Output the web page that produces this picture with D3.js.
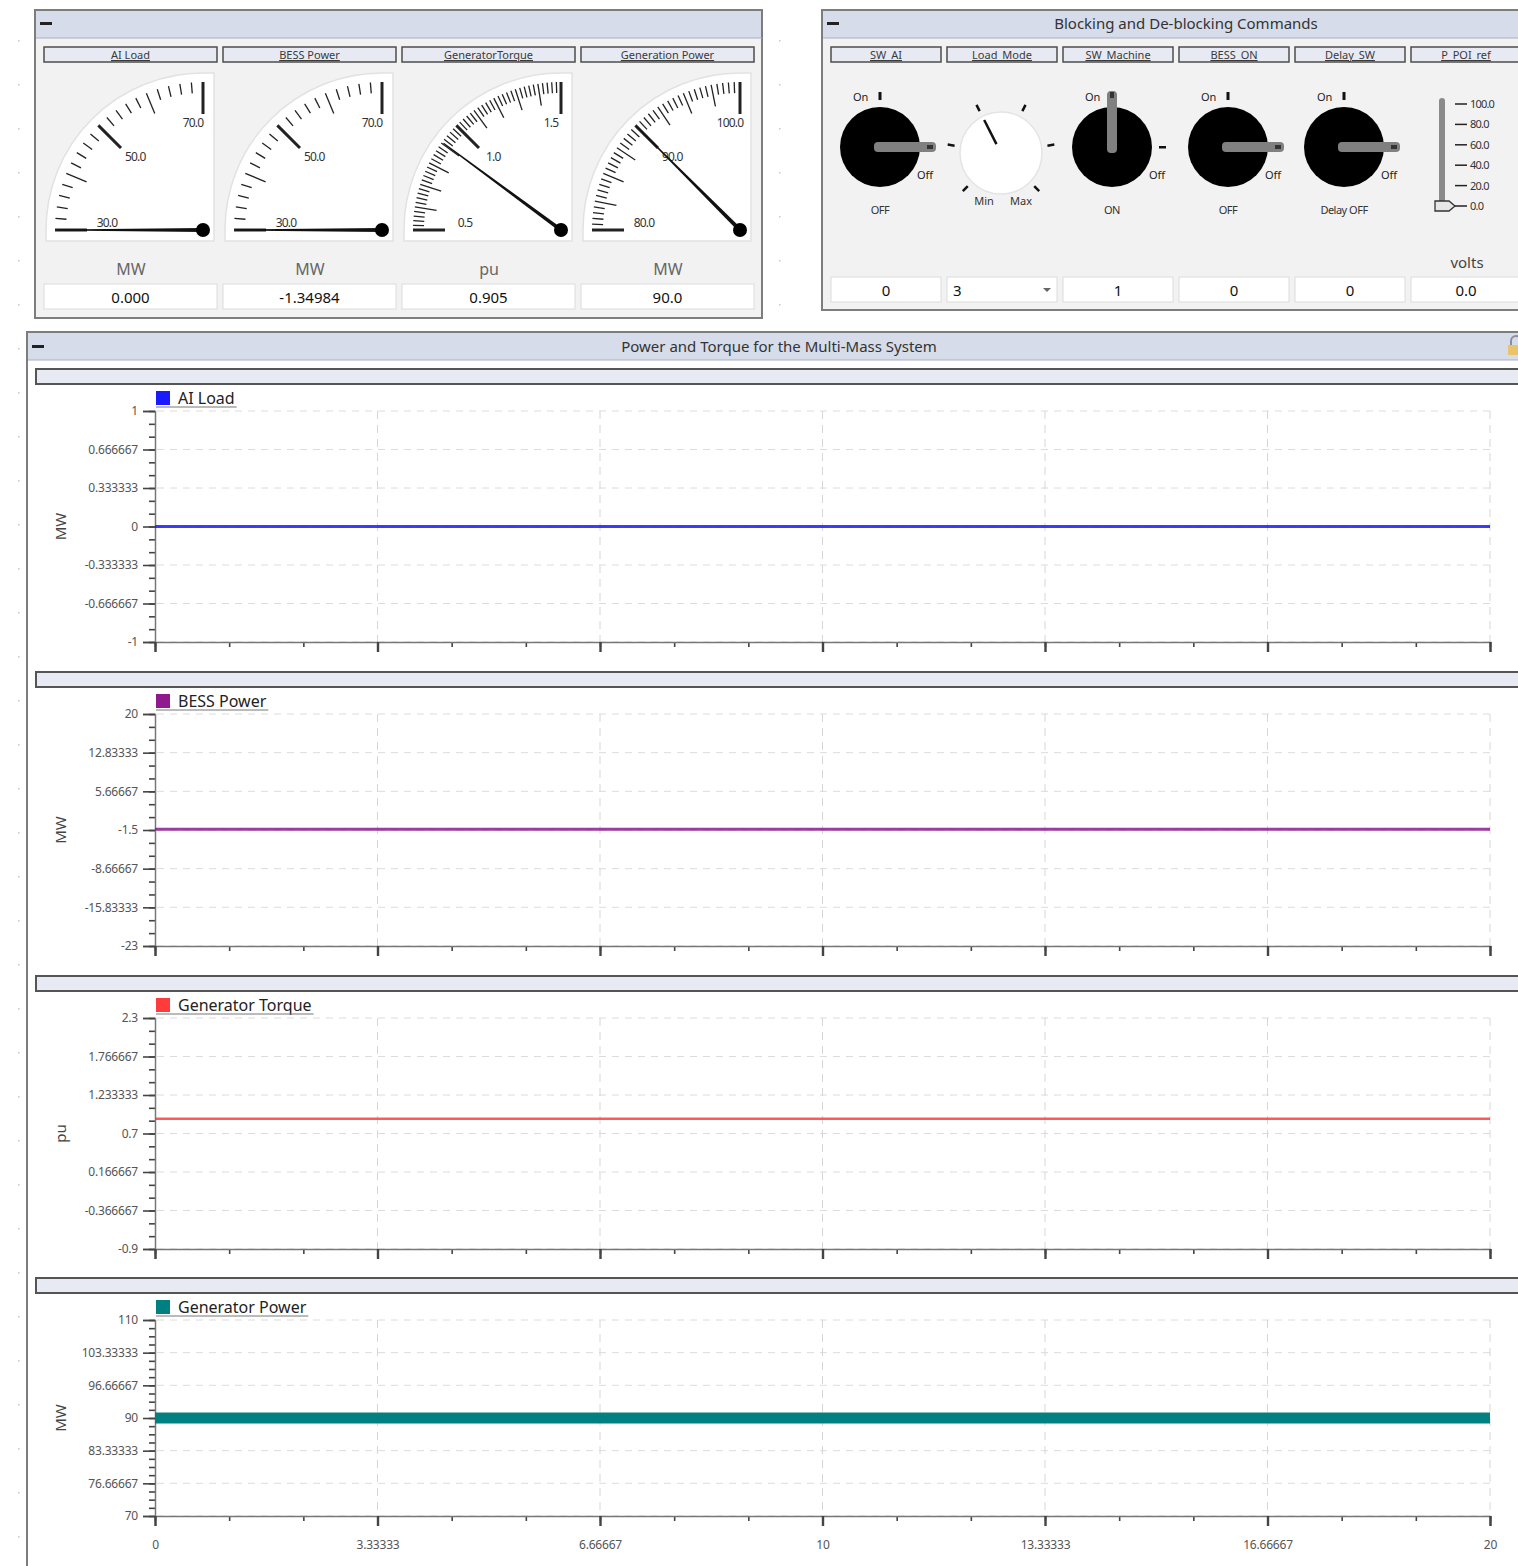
<!DOCTYPE html>
<html>
<head>
<meta charset="utf-8">
<script src="https://cdn.jsdelivr.net/npm/d3@7"></script>
<style>
  body { margin: 0; background: #fff; overflow: hidden; }
  svg { display: block; font-family: "Noto Sans", "Open Sans", sans-serif; }
</style>
</head>
<body>
<script>
// dashboard: gauges, switches and four strip charts

var width = 1518;
var height = 1566;

// ---- gauge panel data
var gaugeNames = ["AI Load", "BESS Power", "GeneratorTorque", "Generation Power"];
var gaugeMin = [30, 30, 0.5, 80];
var gaugeMax = [70, 70, 1.5, 100];
var gaugeSteps = [20, 20, 50, 40];
var gaugeMajor = [["30.0", "50.0", "70.0"], ["30.0", "50.0", "70.0"], ["0.5", "1.0", "1.5"], ["80.0", "90.0", "100.0"]];
var gaugeValues = [0, -1.34984, 0.905, 90.0];
var gaugeUnits = ["MW", "MW", "pu", "MW"];
var gaugeText = ["0.000", "-1.34984", "0.905", "90.0"];

// ---- command panel data
var cmdNames = ["SW_AI", "Load_Mode", "SW_Machine", "BESS_ON", "Delay_SW", "P_POI_ref"];
var cmdValues = [0, 3, 1, 0, 0, 0.0];
var cmdText = ["0", "3", "1", "0", "0", "0.0"];
var switchStatus = ["OFF", "", "ON", "OFF", "Delay OFF"];
var modePositions = [1, 2, 3, 4, 5, 6];
var sliderTicks = [0, 20, 40, 60, 80, 100];
var sliderLabels = ["0.0", "20.0", "40.0", "60.0", "80.0", "100.0"];

// ---- strip chart data
var time = [0, 2.5, 5, 7.5, 10, 12.5, 15, 17.5, 20];
var aiLoad = [0, 0, 0, 0, 0, 0, 0, 0, 0];
var bessPower = [-1.35, -1.35, -1.35, -1.35, -1.35, -1.35, -1.35, -1.35, -1.35];
var genTorque = [0.905, 0.905, 0.905, 0.905, 0.905, 0.905, 0.905, 0.905, 0.905];
var genPower = [90, 90, 90, 90, 90, 90, 90, 90, 90];

var xTickLabels = ["0", "3.33333", "6.66667", "10", "13.33333", "16.66667", "20"];
var yLabelsLoad = ["1", "0.666667", "0.333333", "0", "-0.333333", "-0.666667", "-1"];
var yLabelsBess = ["20", "12.83333", "5.66667", "-1.5", "-8.66667", "-15.83333", "-23"];
var yLabelsTorque = ["2.3", "1.766667", "1.233333", "0.7", "0.166667", "-0.366667", "-0.9"];
var yLabelsPower = ["110", "103.33333", "96.66667", "90", "83.33333", "76.66667", "70"];

var svg = d3.select("body").append("svg")
  .attr("width", width)
  .attr("height", height);

// faint grid dots of the editor canvas
[18, 779].forEach(function(dx){
  d3.range(40, height, 44).forEach(function(dy){
    svg.append("rect").attr("x", dx).attr("y", dy).attr("width", 1.5).attr("height", 1.5).attr("fill", "#c8c8c8");
  });
});

var panel = function(x, y, w, h, title){
  var g = svg.append("g");
  g.append("rect").attr("x", x).attr("y", y).attr("width", w).attr("height", h)
    .attr("fill", "#f2f2f2").attr("stroke", "#7d7d7d").attr("stroke-width", 2);
  g.append("rect").attr("x", x + 1).attr("y", y + 1).attr("width", w - 2).attr("height", 27)
    .attr("fill", "#d6dce9");
  g.append("line").attr("x1", x + 1).attr("x2", x + w).attr("y1", y + 28).attr("y2", y + 28)
    .attr("stroke", "#a9b0c0");
  g.append("rect").attr("x", x + 5).attr("y", y + 12).attr("width", 12).attr("height", 3).attr("fill", "#222");
  if (title) {
    g.append("text").attr("x", x + w / 2).attr("y", y + 19).attr("text-anchor", "middle")
      .attr("font-size", 15).attr("fill", "#333").text(title);
  }
  return g;
};

var labelBox = function(g, x, y, w, txt){
  g.append("rect").attr("x", x).attr("y", y).attr("width", w).attr("height", 15)
    .attr("fill", "#e7eaf3").attr("stroke", "#4d4d4d").attr("stroke-width", 1.5);
  g.append("text").attr("x", x + w / 2).attr("y", y + 12).attr("text-anchor", "middle")
    .attr("font-size", 11).attr("fill", "#3a3a3a").attr("text-decoration", "underline").text(txt);
};

var valueBox = function(g, x, y, w, txt, anchor){
  g.append("rect").attr("x", x).attr("y", y).attr("width", w).attr("height", 25)
    .attr("fill", "#fff").attr("stroke", "#dcdcdc");
  g.append("text").attr("x", anchor === "start" ? x + 6 : x + w / 2).attr("y", y + 19)
    .attr("text-anchor", anchor || "middle").attr("font-size", 15).attr("fill", "#111").text(txt);
};

// ================= gauge panel
var p1 = panel(35, 10, 727, 308, null);

gaugeNames.forEach(function(name, i){
  var bx = 44 + i * 179;
  labelBox(p1, bx, 47, 173, name);

  var cx = bx + 159, cy = 230, R = 157, b = 11;
  var face = "M" + (cx - R) + "," + (cy + b) + " L" + (cx - R) + "," + cy +
    " A" + R + "," + R + " 0 0 1 " + cx + "," + (cy - R) +
    " L" + (cx + b) + "," + (cy - R) + " L" + (cx + b) + "," + (cy + b) + " Z";
  p1.append("path").attr("d", face).attr("fill", "#fff").attr("stroke", "#e2e2e2").attr("stroke-width", 1.5);

  var ang = d3.scaleLinear().domain([gaugeMin[i], gaugeMax[i]]).range([Math.PI, Math.PI / 2]).clamp(true);
  var n = gaugeSteps[i];
  d3.range(n + 1).forEach(function(k){
    var v = gaugeMin[i] + (gaugeMax[i] - gaugeMin[i]) * k / n;
    var a = ang(v);
    var major = k % (n / 2) === 0;
    var mid = !major && k % 5 === 0;
    var r1 = 148, r0 = major ? 116 : (mid ? 126 : 137);
    p1.append("line")
      .attr("x1", cx + r0 * Math.cos(a)).attr("y1", cy - r0 * Math.sin(a))
      .attr("x2", cx + r1 * Math.cos(a)).attr("y2", cy - r1 * Math.sin(a))
      .attr("stroke", "#222").attr("stroke-width", major ? 3 : 1.3);
  });

  var offs = [[4, -3], [3, 2], [-10, -3]];
  gaugeMajor[i].forEach(function(lbl, k){
    var v = gaugeMin[i] + (gaugeMax[i] - gaugeMin[i]) * k / 2;
    var a = ang(v);
    p1.append("text")
      .attr("x", cx + 100 * Math.cos(a) + offs[k][0])
      .attr("y", cy - 100 * Math.sin(a) + offs[k][1])
      .attr("text-anchor", "middle").attr("font-size", 12).attr("fill", "#333")
      .attr("letter-spacing", -0.8).text(lbl);
  });

  // needle
  var a = ang(gaugeValues[i]);
  var L = 146, ux = Math.cos(a), uy = -Math.sin(a), px = -uy, py = ux;
  var pts = [
    [cx + px * 2, cy + py * 2],
    [cx + ux * L + px * 0.5, cy + uy * L + py * 0.5],
    [cx + ux * L - px * 0.5, cy + uy * L - py * 0.5],
    [cx - px * 2, cy - py * 2]
  ];
  p1.append("polygon").attr("points", pts.map(function(p){ return p.join(","); }).join(" "))
    .attr("fill", "#111");
  p1.append("circle").attr("cx", cx).attr("cy", cy).attr("r", 7).attr("fill", "#000");

  p1.append("text").attr("x", bx + 87).attr("y", 275).attr("text-anchor", "middle")
    .attr("font-size", 16).attr("fill", "#666").text(gaugeUnits[i]);
  valueBox(p1, bx, 284, 173, gaugeText[i]);
});

// ================= command panel
var p2 = panel(822, 10, 720, 300, "Blocking and De-blocking Commands");
p2.select("text").attr("x", 1186);

cmdNames.forEach(function(name, i){
  var bx = 831 + i * 116;
  labelBox(p2, bx, 47, 110, name);
  valueBox(p2, bx, 277, 110, cmdText[i], i === 1 ? "start" : "middle");
});
// dropdown arrow
p2.append("path").attr("d", "M1043,288 l8,0 l-4,4 z").attr("fill", "#666");

// toggle switches
[0, 2, 3, 4].forEach(function(i){
  var kx = 831 + i * 116 + 49, ky = 147;
  var on = cmdValues[i] === 1;
  p2.append("text").attr("x", kx - 27).attr("y", ky - 46).attr("font-size", 11).attr("fill", "#222").text("On");
  p2.append("rect").attr("x", kx - 1.5).attr("y", ky - 55).attr("width", 3).attr("height", 8).attr("fill", "#111");
  p2.append("rect").attr("x", kx + 47).attr("y", ky - 1).attr("width", 7).attr("height", 2.5).attr("fill", "#111");
  p2.append("circle").attr("cx", kx).attr("cy", ky).attr("r", 40).attr("fill", "#000");
  if (on) {
    p2.append("rect").attr("x", kx - 5).attr("y", ky - 56).attr("width", 10).attr("height", 62).attr("rx", 4)
      .attr("fill", "#808080");
    p2.append("rect").attr("x", kx - 2).attr("y", ky - 55).attr("width", 4).attr("height", 6).attr("fill", "#333");
  } else {
    p2.append("rect").attr("x", kx - 6).attr("y", ky - 5).attr("width", 62).attr("height", 10).attr("rx", 4)
      .attr("fill", "#808080");
    p2.append("rect").attr("x", kx + 47).attr("y", ky - 2).attr("width", 6).attr("height", 4).attr("fill", "#333");
  }
  p2.append("text").attr("x", kx + 37).attr("y", ky + 32).attr("font-size", 11).attr("fill", "#222").text("Off");
  p2.append("text").attr("x", kx).attr("y", ky + 67).attr("text-anchor", "middle")
    .attr("font-size", 11).attr("fill", "#333").attr("letter-spacing", -0.5).text(switchStatus[i]);
});

// Load_Mode rotary knob
(function(){
  var kx = 1001, ky = 153;
  var rot = d3.scaleLinear().domain([modePositions[0], modePositions[modePositions.length - 1]])
    .range([-135, 135]);
  modePositions.forEach(function(m){
    var a = rot(m) * Math.PI / 180;
    p2.append("line")
      .attr("x1", kx + 47 * Math.sin(a)).attr("y1", ky - 47 * Math.cos(a))
      .attr("x2", kx + 54 * Math.sin(a)).attr("y2", ky - 54 * Math.cos(a))
      .attr("stroke", "#111").attr("stroke-width", 2.5);
  });
  p2.append("circle").attr("cx", kx).attr("cy", ky).attr("r", 41).attr("fill", "#fff")
    .attr("stroke", "#e4e4e4").attr("stroke-width", 1.5);
  var a = rot(cmdValues[1]) * Math.PI / 180;
  p2.append("line")
    .attr("x1", kx + 10 * Math.sin(a)).attr("y1", ky - 10 * Math.cos(a))
    .attr("x2", kx + 37 * Math.sin(a)).attr("y2", ky - 37 * Math.cos(a))
    .attr("stroke", "#111").attr("stroke-width", 2.5);
  p2.append("text").attr("x", 984).attr("y", 205).attr("text-anchor", "middle").attr("font-size", 11).attr("fill", "#333").text("Min");
  p2.append("text").attr("x", 1021).attr("y", 205).attr("text-anchor", "middle").attr("font-size", 11).attr("fill", "#333").text("Max");
})();

// P_POI_ref slider
(function(){
  var sy = d3.scaleLinear().domain([0, 100]).range([206, 104]);
  p2.append("rect").attr("x", 1439).attr("y", 98).attr("width", 6).attr("height", 110).attr("rx", 3).attr("fill", "#8a8a8a");
  sliderTicks.forEach(function(t, k){
    p2.append("line").attr("x1", 1455).attr("x2", 1467).attr("y1", sy(t)).attr("y2", sy(t))
      .attr("stroke", "#222").attr("stroke-width", 1.5);
    p2.append("text").attr("x", 1470).attr("y", sy(t) + 4).attr("font-size", 11).attr("fill", "#333")
      .attr("letter-spacing", -0.8).text(sliderLabels[k]);
  });
  var ty = sy(cmdValues[5]);
  p2.append("path").attr("d", "M1435," + (ty - 5) + " L1449," + (ty - 5) + " L1455," + ty + " L1449," + (ty + 5) + " L1435," + (ty + 5) + " Z")
    .attr("fill", "#e6e6e6").attr("stroke", "#333").attr("stroke-width", 1.3);
  p2.append("text").attr("x", 1467).attr("y", 268).attr("text-anchor", "middle").attr("font-size", 15).attr("fill", "#444").text("volts");
})();

// ================= strip charts panel
var p3 = svg.append("g");
p3.append("rect").attr("x", 27).attr("y", 332).attr("width", 1520).attr("height", 1250)
  .attr("fill", "#fff").attr("stroke", "#7d7d7d").attr("stroke-width", 2);
p3.append("rect").attr("x", 28).attr("y", 333).attr("width", 1500).attr("height", 27).attr("fill", "#d6dce9");
p3.append("line").attr("x1", 28).attr("x2", 1518).attr("y1", 360).attr("y2", 360).attr("stroke", "#a9b0c0");
p3.append("rect").attr("x", 32).attr("y", 345).attr("width", 12).attr("height", 3).attr("fill", "#222");
p3.append("text").attr("x", 779).attr("y", 352).attr("text-anchor", "middle").attr("font-size", 15)
  .attr("fill", "#333").text("Power and Torque for the Multi-Mass System");
// lock icon
p3.append("path").attr("d", "M1511,345 v-4 a5,5 0 0 1 10,0 v4").attr("fill", "none").attr("stroke", "#8a8fa0").attr("stroke-width", 2);
p3.append("rect").attr("x", 1508).attr("y", 345).attr("width", 14).attr("height", 10).attr("fill", "#e9c46a");

var x = d3.scaleLinear().domain([0, 20]).range([155, 1490]);
var xTickVals = xTickLabels.map(Number);

var charts = [
  { name: "AI Load", color: "#1a1aff", lw: 3, op: 0.85, top: 411, bottom: 642, strip: 369, unit: "MW", labels: yLabelsLoad, values: aiLoad, minor: 3 },
  { name: "BESS Power", color: "#8e1a8e", lw: 3, op: 0.85, top: 714, bottom: 946, strip: 672, unit: "MW", labels: yLabelsBess, values: bessPower, minor: 3 },
  { name: "Generator Torque", color: "#ff3b3b", lw: 2.5, op: 0.85, top: 1018, bottom: 1249, strip: 976, unit: "pu", labels: yLabelsTorque, values: genTorque, minor: 3 },
  { name: "Generator Power", color: "#008080", lw: 11, op: 1, top: 1320, bottom: 1516, strip: 1278, unit: "MW", labels: yLabelsPower, values: genPower, minor: 4 }
];

charts.forEach(function(c, ci){
  var g = p3.append("g");
  g.append("rect").attr("x", 36).attr("y", c.strip).attr("width", 1500).attr("height", 15)
    .attr("fill", "#e7eaf3").attr("stroke", "#555").attr("stroke-width", 2);

  var yVals = c.labels.map(Number);
  var y = d3.scaleLinear().domain([d3.min(yVals), d3.max(yVals)]).range([c.bottom, c.top]);

  // grid
  g.selectAll(".hg").data(yVals).enter().append("line")
    .attr("x1", 157).attr("x2", 1490).attr("y1", function(d){ return y(d); }).attr("y2", function(d){ return y(d); })
    .attr("stroke", "#dcdcdc").attr("stroke-dasharray", "7,6");
  g.selectAll(".vg").data(xTickVals.slice(1)).enter().append("line")
    .attr("x1", function(d){ return x(d); }).attr("x2", function(d){ return x(d); })
    .attr("y1", c.top).attr("y2", c.bottom)
    .attr("stroke", "#d6d6d6").attr("stroke-dasharray", "8,6");

  // minor ticks
  var yMinor = d3.range((yVals.length - 1) * c.minor + 1).map(function(k){
    return d3.min(yVals) + (d3.max(yVals) - d3.min(yVals)) * k / ((yVals.length - 1) * c.minor);
  });
  var ym = g.append("g").attr("transform", "translate(155,0)")
    .call(d3.axisLeft(y).tickValues(yMinor).tickSize(6).tickFormat(""));
  ym.select(".domain").remove();

  var ya = g.append("g").attr("transform", "translate(155,0)")
    .call(d3.axisLeft(y).tickValues(yVals).tickSize(12).tickPadding(5)
      .tickFormat(function(d){ return c.labels[yVals.indexOf(d)]; }));

  var xMinor = d3.range(19).map(function(k){ return 20 * k / 18; });
  var xm = g.append("g").attr("transform", "translate(0," + c.bottom + ")")
    .call(d3.axisBottom(x).tickValues(xMinor).tickSize(5).tickFormat(""));
  xm.select(".domain").remove();
  var xa = g.append("g").attr("transform", "translate(0," + c.bottom + ")")
    .call(d3.axisBottom(x).tickValues(xTickVals).tickSize(10).tickPadding(14)
      .tickFormat(function(d, k){ return ci === charts.length - 1 ? xTickLabels[k] : ""; }));

  [ya, ym, xa, xm].forEach(function(a){
    a.selectAll("line").attr("stroke", "#444").attr("stroke-width", 1.6);
    a.select(".domain").attr("stroke", "#777").attr("stroke-width", 1.5);
    a.selectAll("text").attr("font-size", 12).attr("fill", "#555")
      .attr("font-family", "'Noto Sans', sans-serif").attr("letter-spacing", -0.2);
  });
  xa.selectAll(".tick line").attr("stroke-width", 2.4);

  g.append("text").attr("transform", "translate(66," + ((c.top + c.bottom) / 2) + ") rotate(-90)")
    .attr("text-anchor", "middle").attr("font-size", 15).attr("fill", "#444").text(c.unit);

  // series
  var line = d3.line().x(function(d, k){ return x(time[k]); }).y(function(d){ return y(d); });
  g.append("path").datum(c.values).attr("d", line).attr("fill", "none")
    .attr("stroke", c.color).attr("stroke-width", c.lw).attr("opacity", c.op);

  // legend
  g.append("rect").attr("x", 156).attr("y", c.top - 20).attr("width", 14).attr("height", 14).attr("fill", c.color);
  var lt = g.append("text").attr("x", 178).attr("y", c.top - 7).attr("font-size", 16).attr("fill", "#222").text(c.name);
  var tw = lt.node().getComputedTextLength();
  g.append("line").attr("x1", 156).attr("x2", 180 + tw).attr("y1", c.top - 4).attr("y2", c.top - 4)
    .attr("stroke", "#777").attr("stroke-width", 1);
});
</script>
</body>
</html>
